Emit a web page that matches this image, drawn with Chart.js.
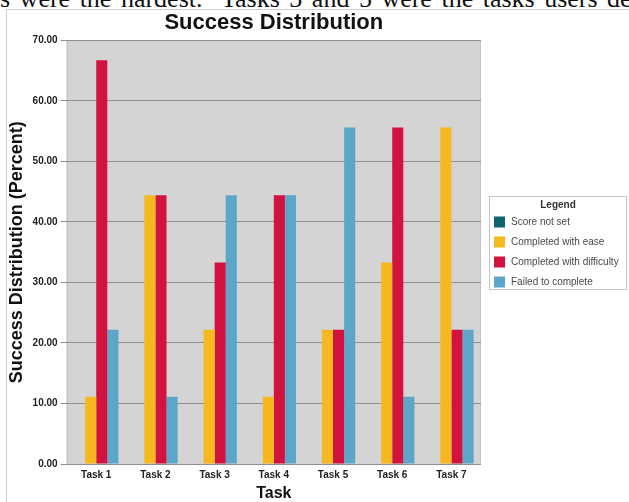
<!DOCTYPE html>
<html>
<head>
<meta charset="utf-8">
<script src="https://cdn.jsdelivr.net/npm/chart.js@4/dist/chart.umd.min.js"></script>
<style>
  html, body { margin: 0; padding: 0; background: #fff; overflow: hidden; }
  #wrap { position: relative; width: 629px; height: 502px; overflow: hidden; }
  #texte { position: absolute; left: 0; top: -14px; white-space: nowrap;
    font: 26px "Liberation Serif", "DejaVu Serif", serif; line-height: 26px;
    word-spacing: 3px; color: #111; }
  #cadre { position: absolute; left: 6px; top: 9px; width: 640px; height: 520px;
    border: 1px solid #d0d0d0; }
  #grafico { position: absolute; left: 0; top: 0; }
</style>
</head>
<body>
<div id="wrap">
  <div id="texte">s were the hardest.&nbsp; Tasks 3 and 5 were the tasks users deci</div>
  <div id="cadre"></div>
  <canvas id="grafico" width="629" height="502"></canvas>
</div>
<script>
const tareas = ["Task 1", "Task 2", "Task 3", "Task 4", "Task 5", "Task 6", "Task 7"];
const sinPuntaje = [0, 0, 0, 0, 0, 0, 0];
const conFacilidad = [11.1, 44.4, 22.2, 11.1, 22.2, 33.3, 55.6];
const conDificultad = [66.7, 44.4, 33.3, 44.4, 22.2, 55.6, 22.2];
const noCompleto = [22.2, 11.1, 44.4, 44.4, 55.6, 11.1, 22.2];
const ticksY = [0, 10, 20, 30, 40, 50, 60, 70];

const fuente = "'Liberation Sans', Arial, sans-serif";

// fondo gris del area de graficado
const fondoPlot = {
  id: "fondoPlot",
  beforeDraw(chart) {
    const { ctx, chartArea: a } = chart;
    ctx.save();
    ctx.fillStyle = "#d4d4d4";
    ctx.fillRect(a.left, a.top, a.right - a.left, a.bottom - a.top);
    ctx.strokeStyle = "#c2c2c2";
    ctx.lineWidth = 1;
    ctx.strokeRect(a.left + 0.5, a.top + 0.5, a.right - a.left - 1, a.bottom - a.top);
    ctx.restore();
  }
};

// leyenda con recuadro, a partir de los datasets
const leyenda = {
  id: "leyenda",
  afterDraw(chart) {
    const { ctx, chartArea: a } = chart;
    const x0 = a.right + 8;
    const x1 = chart.width - 2;
    const centro = (a.top + a.bottom) / 2;
    const y0 = Math.round(centro - 56);
    const y1 = y0 + 94;
    ctx.save();
    ctx.fillStyle = "#fff";
    ctx.fillRect(x0, y0, x1 - x0, y1 - y0);
    ctx.strokeStyle = "#c4c4c4";
    ctx.lineWidth = 1;
    ctx.strokeRect(x0 + 0.5, y0 + 0.5, x1 - x0 - 1, y1 - y0 - 1);

    ctx.textBaseline = "middle";
    ctx.textAlign = "center";
    ctx.fillStyle = "#333";
    ctx.font = "bold 10px " + fuente;
    ctx.fillText("Legend", (x0 + x1) / 2, y0 + 9);

    ctx.textAlign = "left";
    ctx.font = "10px " + fuente;
    chart.data.datasets.forEach((ds, i) => {
      const yc = y0 + 26 + i * 20;
      ctx.fillStyle = ds.backgroundColor;
      ctx.fillRect(x0 + 5, yc - 5.5, 11, 11);
      ctx.fillStyle = "#4a4a4a";
      ctx.fillText(ds.label, x0 + 22, yc);
    });
    ctx.restore();
  }
};

const ctx = document.getElementById("grafico").getContext("2d");
new Chart(ctx, {
  type: "bar",
  data: {
    labels: tareas,
    datasets: [
      { label: "Score not set", data: sinPuntaje, backgroundColor: "#0e6470" },
      { label: "Completed with ease", data: conFacilidad, backgroundColor: "#f6b81f" },
      { label: "Completed with difficulty", data: conDificultad, backgroundColor: "#d2123f" },
      { label: "Failed to complete", data: noCompleto, backgroundColor: "#5ba6c9" }
    ]
  },
  options: {
    responsive: false,
    animation: false,
    layout: { padding: { top: 10, left: 6, right: 148, bottom: 0 } },
    datasets: { bar: { categoryPercentage: 0.75, barPercentage: 1.0 } },
    plugins: {
      title: {
        display: true,
        text: "Success Distribution",
        fullSize: false,
        color: "#111",
        font: { family: fuente, size: 22, weight: "bold" },
        padding: { top: 0, bottom: 4 }
      },
      legend: { display: false },
      tooltip: { enabled: false }
    },
    scales: {
      x: {
        grid: { display: false, drawTicks: false, tickLength: 0 },
        border: { display: false },
        ticks: { color: "#222", font: { family: fuente, size: 10, weight: "bold" }, padding: 5 },
        title: {
          display: true,
          text: "Task",
          color: "#111",
          font: { family: fuente, size: 16, weight: "bold", lineHeight: 1 },
          padding: { top: 0, bottom: 0 }
        }
      },
      y: {
        min: 0,
        max: 70,
        afterBuildTicks(axis) { axis.ticks = ticksY.map(v => ({ value: v })); },
        grid: { color: "#8f8f8f", lineWidth: 1, tickLength: 6 },
        border: { display: false },
        ticks: {
          color: "#222",
          padding: 3,
          font: { family: fuente, size: 10, weight: "bold" },
          callback: v => v.toFixed(2)
        },
        title: {
          display: true,
          text: "Success Distribution (Percent)",
          color: "#111",
          font: { family: fuente, size: 18, weight: "bold" },
          padding: { top: 0, bottom: 2 }
        }
      }
    }
  },
  plugins: [fondoPlot, leyenda]
});
</script>
</body>
</html>
